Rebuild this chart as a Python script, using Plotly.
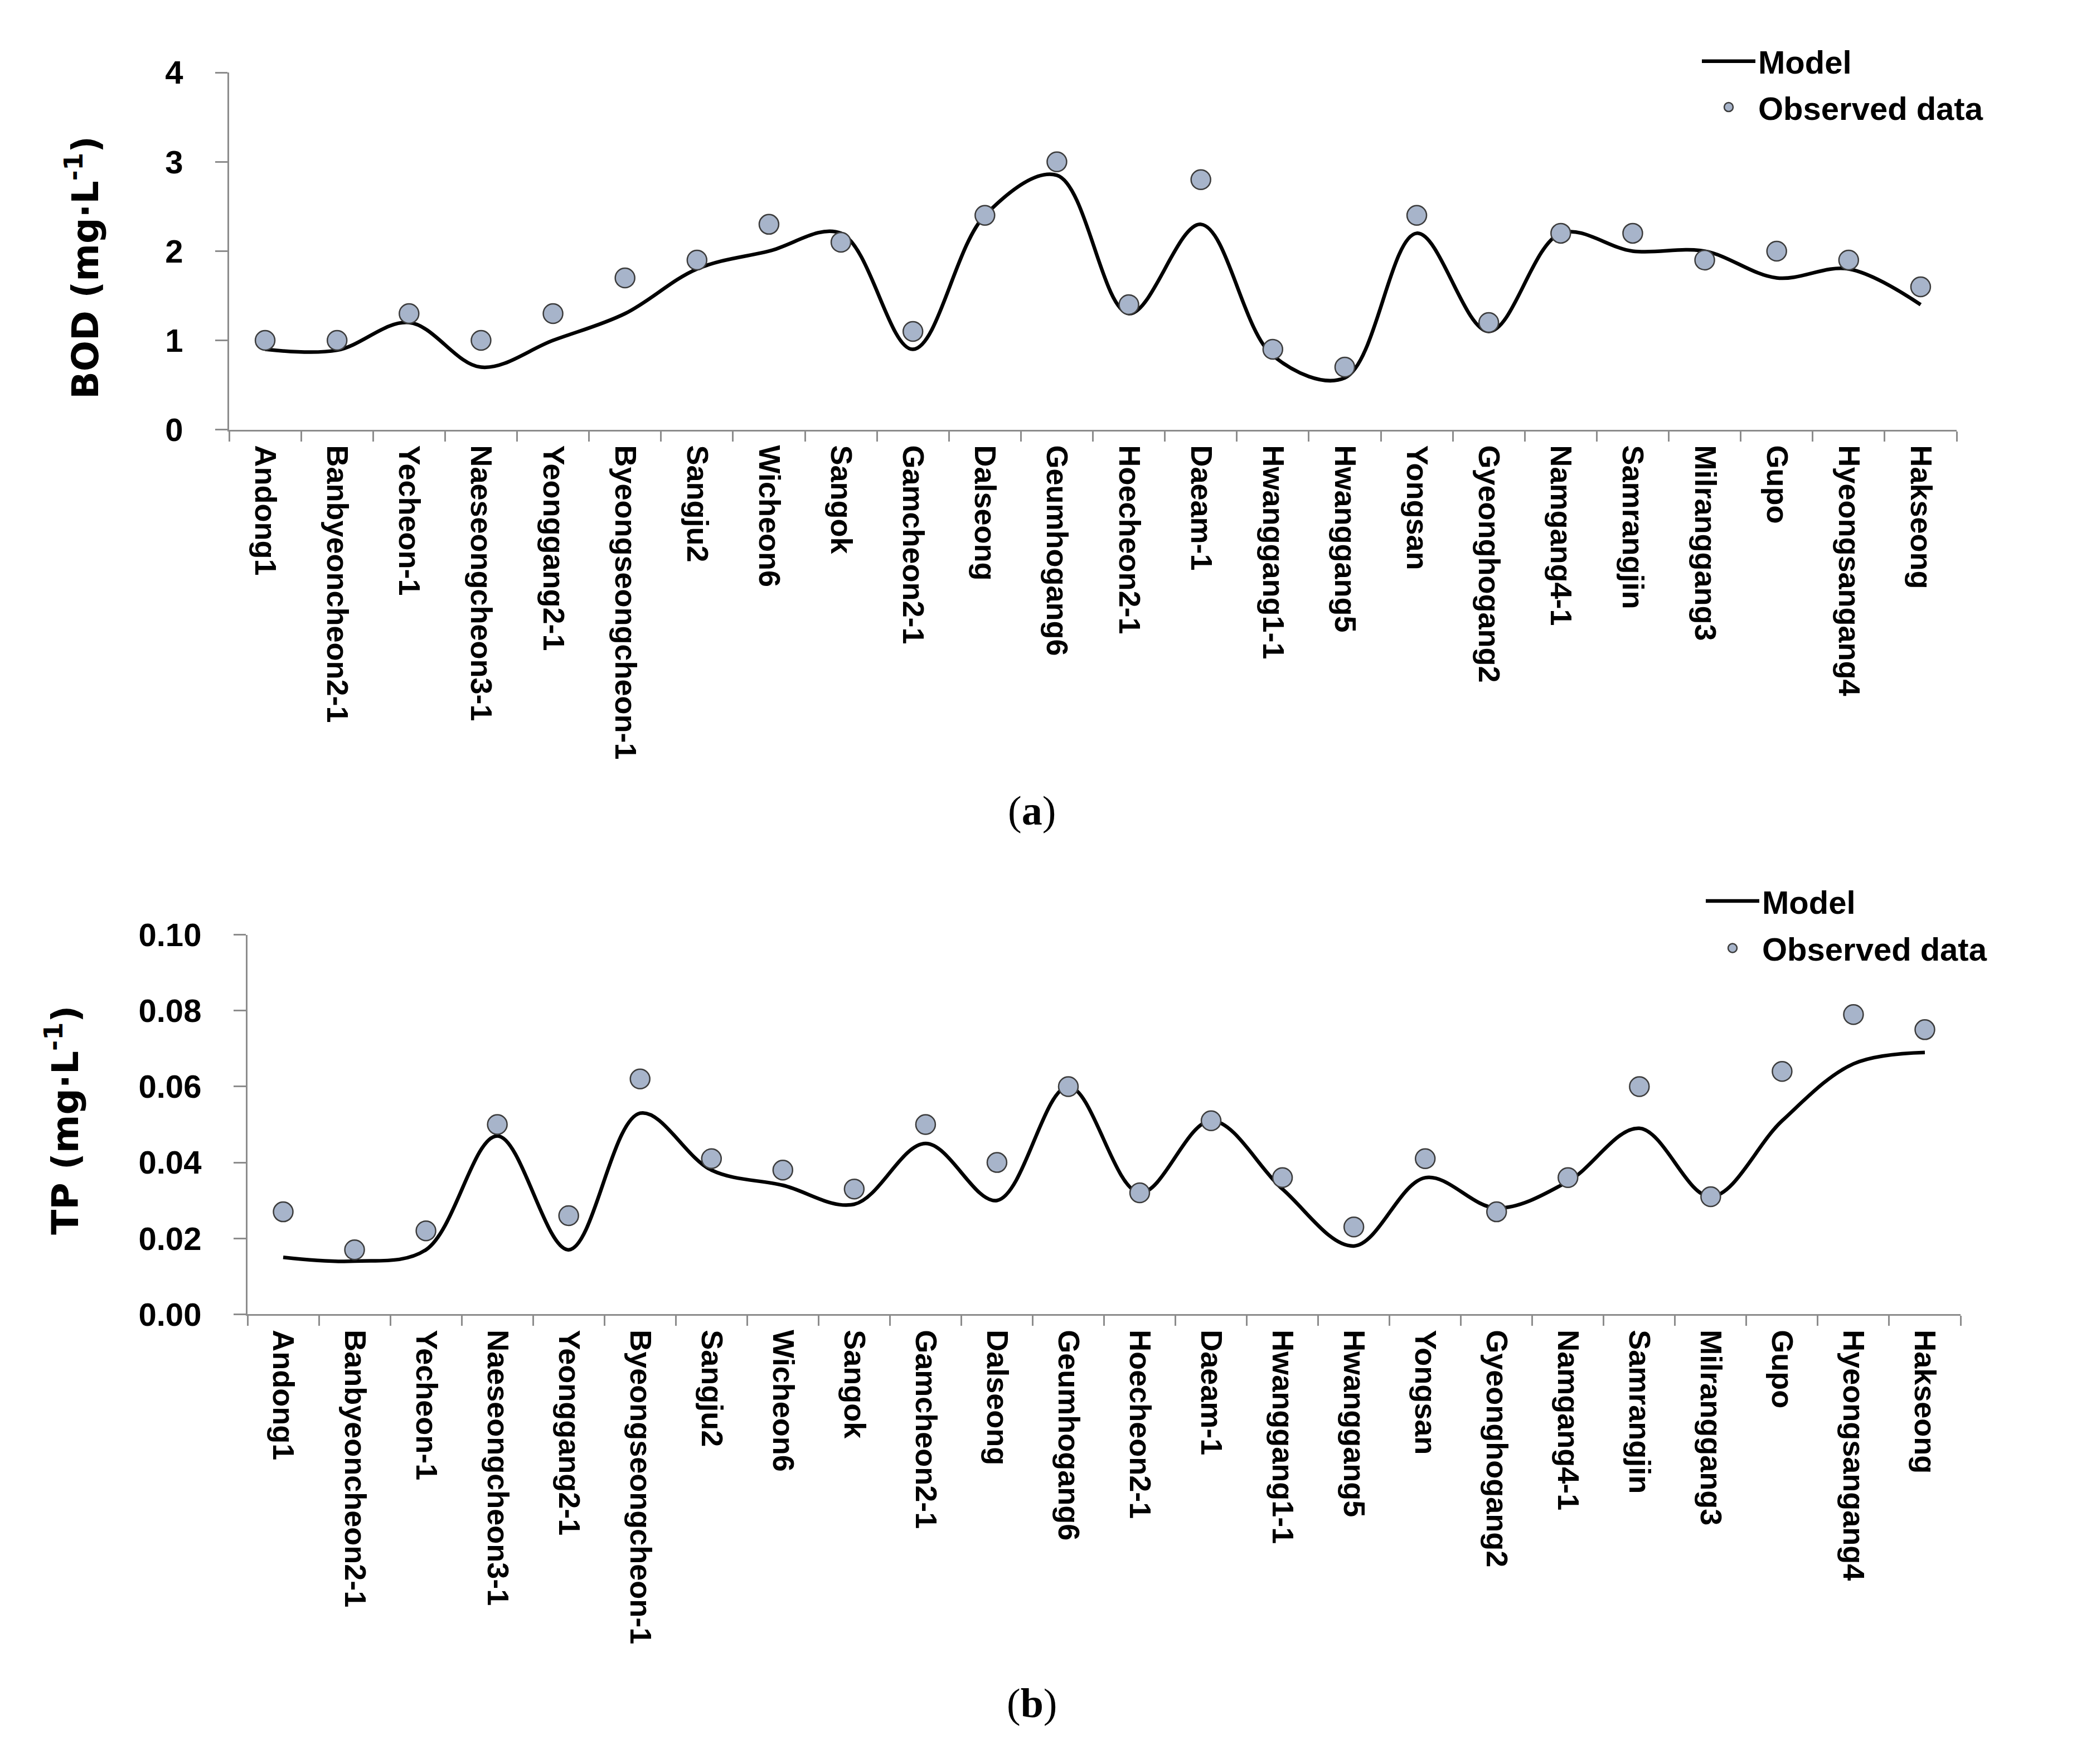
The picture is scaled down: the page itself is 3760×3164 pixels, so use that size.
import plotly.graph_objects as go

stations = ["Andong1", "Banbyeoncheon2-1", "Yecheon-1", "Naeseongcheon3-1", "Yeonggang2-1",
            "Byeongseongcheon-1", "Sangju2", "Wicheon6", "Sangok", "Gamcheon2-1", "Dalseong",
            "Geumhogang6", "Hoecheon2-1", "Daeam-1", "Hwanggang1-1", "Hwanggang5", "Yongsan",
            "Gyeonghogang2", "Namgang4-1", "Samrangjin", "Milranggang3", "Gupo",
            "Hyeongsangang4", "Hakseong"]

bod_observed = [1.0, 1.0, 1.3, 1.0, 1.3, 1.7, 1.9, 2.3, 2.1, 1.1, 2.4, 3.0,
                1.4, 2.8, 0.9, 0.7, 2.4, 1.2, 2.2, 2.2, 1.9, 2.0, 1.9, 1.6]
bod_model = [0.9, 0.89, 1.2, 0.7, 1.0, 1.3, 1.8, 2.0, 2.2, 0.9, 2.4, 2.85,
             1.3, 2.3, 0.83, 0.58, 2.2, 1.1, 2.2, 2.0, 2.0, 1.7, 1.8, 1.4]

tp_observed = [0.027, 0.017, 0.022, 0.050, 0.026, 0.062, 0.041, 0.038, 0.033, 0.050, 0.040, 0.060,
               0.032, 0.051, 0.036, 0.023, 0.041, 0.027, 0.036, 0.060, 0.031, 0.064, 0.079, 0.075]
tp_model = [0.015, 0.014, 0.017, 0.047, 0.017, 0.053, 0.038, 0.034, 0.029, 0.045, 0.030, 0.060,
            0.032, 0.051, 0.033, 0.018, 0.036, 0.028, 0.035, 0.049, 0.031, 0.051, 0.066, 0.069]

bod_ticks = [0, 1, 2, 3, 4]
tp_ticks = [0.00, 0.02, 0.04, 0.06, 0.08, 0.10]

W, H = 3760, 3164
AXIS_GRAY = "#8C8C8C"
MARKER_FILL = "#A7B4CA"
MARKER_EDGE = "#3C3C3C"
SANS = "Liberation Sans, Arial, sans-serif"

fig = go.Figure()

def add_panel(model, observed, xa, ya, legend):
    fig.add_trace(go.Scatter(
        x=stations, y=model, mode="lines", name="Model",
        line=dict(color="black", width=6.5, shape="spline", smoothing=1.0),
        xaxis=xa, yaxis=ya, legend=legend, legendgroup=legend + "m"))
    fig.add_trace(go.Scatter(
        x=stations, y=observed, mode="markers", name="Observed data",
        marker=dict(size=35, color=MARKER_FILL, line=dict(color=MARKER_EDGE, width=2.5)),
        xaxis=xa, yaxis=ya, legend=legend, legendgroup=legend + "o"))

add_panel(bod_model, bod_observed, "x", "y", "legend")
add_panel(tp_model, tp_observed, "x2", "y2", "legend2")

xcommon = dict(type="category", range=[-0.5, len(stations) - 0.5], tickson="boundaries",
               ticks="outside", ticklen=18, tickwidth=3, tickcolor=AXIS_GRAY,
               showline=True, linecolor=AXIS_GRAY, linewidth=3, showgrid=False,
               tickangle=90, tickfont=dict(family=SANS, size=54, color="black", weight="bold"),
               ticklabelstandoff=14)
ycommon = dict(ticks="outside", ticklen=22, tickwidth=3, tickcolor=AXIS_GRAY,
               showline=True, linecolor=AXIS_GRAY, linewidth=3, showgrid=False, zeroline=False,
               tickfont=dict(family=SANS, size=58, color="black", weight="bold"),
               ticklabelstandoff=46)

legend_font = dict(family=SANS, size=58, color="black", weight="bold")

fig.update_layout(
    width=W, height=H, margin=dict(l=0, r=0, t=0, b=0),
    paper_bgcolor="white", plot_bgcolor="white", showlegend=True,
    xaxis=dict(domain=[403 / W, 3502 / W], anchor="y", **xcommon),
    yaxis=dict(domain=[1 - 745 / H, 1 - 91 / H], anchor="x", range=[0, 4],
               tickvals=bod_ticks, ticktext=[str(v) for v in bod_ticks], **ycommon),
    xaxis2=dict(domain=[436 / W, 3509 / W], anchor="y2", **xcommon),
    yaxis2=dict(domain=[1 - 2365 / H, 1 - 1670 / H], anchor="x2", range=[0, 0.10],
                tickvals=tp_ticks, ticktext=[f"{v:.2f}" for v in tp_ticks], **ycommon),
    legend=dict(x=3040 / W, y=1 - 25 / H, xanchor="left", yanchor="top",
                bgcolor="rgba(0,0,0,0)", itemwidth=96, traceorder="grouped", tracegroupgap=4,
                font=legend_font),
    legend2=dict(x=3047 / W, y=1 - 1563 / H, xanchor="left", yanchor="top",
                 bgcolor="rgba(0,0,0,0)", itemwidth=96, traceorder="grouped", tracegroupgap=6,
                 font=legend_font),
    annotations=[
        dict(text="BOD (mg·L<sup>-1</sup>)", x=140 / W, y=1 - 448 / H, xref="paper", yref="paper",
             showarrow=False, textangle=-90, xanchor="center", yanchor="middle",
             font=dict(family="DejaVu Sans", size=65, color="black", weight="bold")),
        dict(text="TP (mg·L<sup>-1</sup>)", x=105 / W, y=1 - 2010 / H, xref="paper", yref="paper",
             showarrow=False, textangle=-90, xanchor="center", yanchor="middle",
             font=dict(family="DejaVu Sans", size=66, color="black", weight="bold")),
        dict(text="(<b>a</b>)", x=1843 / W, y=1 - 1443 / H, xref="paper", yref="paper",
             showarrow=False, xanchor="center", yanchor="middle",
             font=dict(family="Liberation Serif, Times New Roman, serif", size=74, color="black")),
        dict(text="(<b>b</b>)", x=1843 / W, y=1 - 3077 / H, xref="paper", yref="paper",
             showarrow=False, xanchor="center", yanchor="middle",
             font=dict(family="Liberation Serif, Times New Roman, serif", size=74, color="black")),
    ],
)

fig.write_html("out.html")
